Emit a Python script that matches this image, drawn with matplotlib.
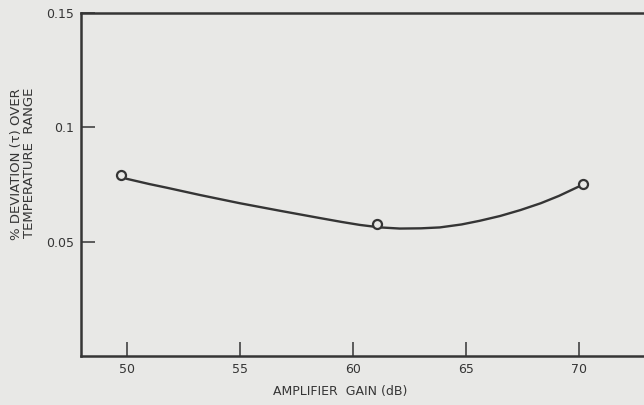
import matplotlib.pyplot as plt

# measured points (circles)
gain = [49.73, 61.07, 70.15]
deviation = [0.0792, 0.0577, 0.0751]

# smooth curve
curve_gain = [49.73, 50.0, 51.0, 51.77, 53.24, 55.0, 56.77, 58.54, 59.5, 60.3, 61.2, 62.07,
              63.0, 63.84, 64.8, 65.6, 66.5, 67.4, 68.3, 69.1, 70.15]
curve_dev = [0.0785, 0.0775, 0.0752, 0.0736, 0.0704, 0.0668, 0.0635, 0.0603, 0.0586, 0.0573,
             0.0562, 0.0557, 0.0558, 0.0562, 0.0575, 0.0591, 0.0612, 0.0638, 0.0668, 0.0700, 0.0749]

xticks = [50, 55, 60, 65, 70]
yticks = [0.05, 0.1, 0.15]
ytick_labels = ['0.05', '0.1', '0.15']

ink = '#353535'
paper = '#e8e8e6'

plt.rcParams['font.family'] = ['DejaVu Sans']

fig = plt.figure(figsize=(6.44, 4.05), dpi=100)
fig.patch.set_facecolor(paper)
ax = fig.add_axes([0.1253, 0.1217, 0.8747, 0.8455])
ax.set_facecolor(paper)

ax.plot(curve_gain, curve_dev, color=ink, lw=1.7, zorder=2)
ax.plot(gain, deviation, 'o', ms=6.5, mfc=paper, mec=ink, mew=1.6, zorder=3)

ax.set_xlim(47.97, 72.86)
ax.set_ylim(0, 0.15)

ax.set_xticks(xticks)
ax.set_yticks(yticks)
ax.set_yticklabels(ytick_labels)

ax.tick_params(axis='both', direction='in', length=10, width=1.1, color=ink,
               labelcolor=ink, labelsize=9)
ax.tick_params(axis='x', pad=5)
ax.tick_params(axis='y', pad=5)

for side in ['left', 'bottom', 'top']:
    ax.spines[side].set_linewidth(1.8)
    ax.spines[side].set_color(ink)
ax.spines['right'].set_visible(False)

ax.set_xlabel('AMPLIFIER  GAIN (dB)', color=ink, fontsize=9)
ax.xaxis.set_label_coords(0.46, -0.085)
ax.set_ylabel('% DEVIATION (\u03c4) OVER\nTEMPERATURE  RANGE', color=ink,
              fontsize=9.5, multialignment='right', linespacing=0.95)
ax.yaxis.set_label_coords(-0.08, 0.56)

fig.savefig('out.png', dpi=100, facecolor=paper)
